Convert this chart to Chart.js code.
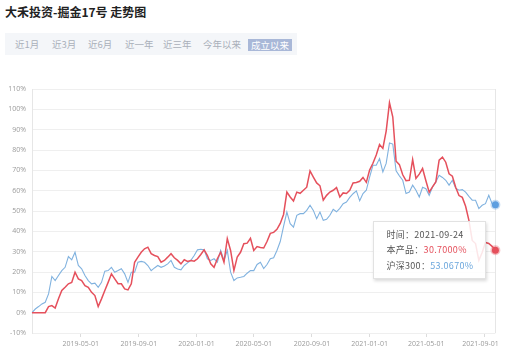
<!DOCTYPE html>
<html>
<head>
<meta charset="utf-8">
<script src="https://cdn.jsdelivr.net/npm/chart.js@4/dist/chart.umd.min.js"></script>
<style>
  html, body { margin: 0; padding: 0; background: #fff; }
  body { width: 510px; height: 358px; position: relative; overflow: hidden; font-family: "Noto Sans CJK SC", "Noto Sans", sans-serif; }
  #title { position: absolute; left: 5px; top: 3px; font-size: 12px; font-weight: bold; color: #222; line-height: 18px; }
  #bar { position: absolute; left: 5px; top: 33px; width: 292px; height: 22px; background: #f4f6f9; }
  #bar span { position: absolute; top: 0; height: 22px; line-height: 22px; font-size: 9.5px; color: #aab0ba; }
  #bar span.active { top: 6px; height: 12px; line-height: 12px; background: #a9b8d8; color: #fff; padding: 0 3px; }
  #c { position: absolute; left: 0; top: 0; }
  #tip { position: absolute; background: rgba(255,255,255,0.86); border: 1px solid #e2e2e2; box-shadow: 1px 2px 3px rgba(0,0,0,0.15); font-size: 9px; color: #555; padding: 5px 12px 5px 12px; line-height: 15.5px; white-space: nowrap; letter-spacing: 0.3px; }
</style>
</head>
<body>
<div id="title">大禾投资-掘金17号 走势图</div>
<div id="bar">
  <span style="left:10px">近1月</span>
  <span style="left:47px">近3月</span>
  <span style="left:83px">近6月</span>
  <span style="left:120px">近一年</span>
  <span style="left:158px">近三年</span>
  <span style="left:198px">今年以来</span>
  <span class="active" style="left:243px">成立以来</span>
</div>
<canvas id="c" width="510" height="358"></canvas>
<div id="tip"></div>
<script>
const dates = [
  '2019-01-18','2019-01-25','2019-02-01','2019-02-08','2019-02-15','2019-02-22','2019-03-01','2019-03-08','2019-03-15','2019-03-22',
  '2019-03-29','2019-04-05','2019-04-12','2019-04-19','2019-04-26','2019-05-03','2019-05-10','2019-05-17','2019-05-24','2019-05-31',
  '2019-06-07','2019-06-14','2019-06-21','2019-06-28','2019-07-05','2019-07-12','2019-07-19','2019-07-26','2019-08-02','2019-08-09',
  '2019-08-16','2019-08-23','2019-08-30','2019-09-06','2019-09-13','2019-09-20','2019-09-27','2019-10-04','2019-10-11','2019-10-18',
  '2019-10-25','2019-11-01','2019-11-08','2019-11-15','2019-11-22','2019-11-29','2019-12-06','2019-12-13','2019-12-20','2019-12-27',
  '2020-01-03','2020-01-10','2020-01-17','2020-01-24','2020-01-31','2020-02-07','2020-02-14','2020-02-21','2020-02-28','2020-03-06',
  '2020-03-13','2020-03-20','2020-03-27','2020-04-03','2020-04-10','2020-04-17','2020-04-24','2020-05-01','2020-05-08','2020-05-15',
  '2020-05-22','2020-05-29','2020-06-05','2020-06-12','2020-06-19','2020-06-26','2020-07-03','2020-07-10','2020-07-17','2020-07-24',
  '2020-07-31','2020-08-07','2020-08-14','2020-08-21','2020-08-28','2020-09-04','2020-09-11','2020-09-18','2020-09-25','2020-10-02',
  '2020-10-09','2020-10-16','2020-10-23','2020-10-30','2020-11-06','2020-11-13','2020-11-20','2020-11-27','2020-12-04','2020-12-11',
  '2020-12-18','2020-12-25','2021-01-01','2021-01-08','2021-01-15','2021-01-22','2021-01-29','2021-02-05','2021-02-12','2021-02-19',
  '2021-02-26','2021-03-05','2021-03-12','2021-03-19','2021-03-26','2021-04-02','2021-04-09','2021-04-16','2021-04-23','2021-04-30',
  '2021-05-07','2021-05-14','2021-05-21','2021-05-28','2021-06-04','2021-06-11','2021-06-18','2021-06-25','2021-07-02','2021-07-09',
  '2021-07-16','2021-07-23','2021-07-30','2021-08-06','2021-08-13','2021-08-20','2021-08-27','2021-09-03','2021-09-10','2021-09-17',
  '2021-09-24'
];
// 本产品 (%)
const productValues = [
  0, 0, 0, 0, 0, 3.0, 3.5, 2.3, 6.8, 10.9,
  12.5, 14.2, 14.9, 19.9, 16.6, 15.8, 13.3, 12.5, 10.0, 8.4,
  3.0, 6.8, 10.9, 14.9, 19.1, 16.6, 14.2, 14.2, 11.7, 11.2,
  14.2, 24.8, 27.3, 29.7, 31.4, 32.2, 29.0, 28.1, 27.6, 24.8,
  25.7, 27.3, 29.0, 27.0, 25.7, 24.0, 26.0, 25.2, 25.7, 25.3,
  26.5, 28.6, 30.9, 28.1, 24.0, 22.3, 26.5, 29.7, 24.8, 36.4,
  30.6, 20.7, 27.3, 29.7, 33.9, 34.2, 36.6, 30.6, 32.5, 32.1,
  31.8, 35.0, 39.0, 39.5, 41.0, 43.9, 48.3, 59.3, 56.9, 54.9,
  59.3, 58.7, 60.2, 61.7, 69.7, 66.7, 63.8, 62.4, 55.3, 57.7,
  59.3, 60.2, 61.5, 56.9, 58.9, 58.6, 60.2, 63.8, 64.0, 64.6,
  66.5, 64.1, 70.1, 73.5, 77.5, 82.7, 80.8, 89.3, 103.3, 96.2,
  74.5, 72.8, 67.8, 64.9, 65.1, 75.3, 66.0, 68.1, 70.9, 64.9,
  59.3, 61.9, 64.3, 75.0, 76.5, 74.0, 68.3, 67.1, 61.7, 57.6,
  56.7, 52.3, 45.4, 35.5, 34.0, 25.7, 29.6, 34.5, 34.0, 32.6,
  30.7
];
// 沪深300 (%)
const hs300Values = [
  0, 1.8, 3.0, 4.3, 5.1, 9.2, 17.8, 15.8, 18.3, 20.7,
  22.3, 27.6, 26.0, 29.7, 23.2, 21.6, 18.3, 15.8, 14.2, 14.5,
  12.5, 14.9, 20.4, 20.7, 22.3, 19.9, 20.7, 21.6, 19.1, 14.9,
  19.9, 19.9, 24.8, 25.2, 24.8, 23.2, 20.7, 22.0, 23.2, 22.3,
  23.0, 24.0, 25.7, 22.3, 21.5, 21.1, 23.2, 24.5, 25.7, 28.1,
  30.9, 31.2, 30.9, 26.5, 25.7, 26.5, 24.8, 30.6, 25.7, 30.6,
  19.9, 15.8, 17.1, 17.4, 17.8, 19.4, 20.7, 20.7, 23.7, 24.8,
  21.7, 23.7, 26.5, 27.0, 30.6, 35.0, 42.4, 49.5, 43.8, 42.1,
  47.9, 48.7, 48.7, 50.3, 52.8, 50.3, 46.2, 49.5, 45.4, 45.9,
  47.9, 50.8, 49.6, 51.3, 53.6, 54.4, 56.7, 58.5, 59.9, 55.0,
  58.6, 60.2, 66.7, 72.5, 72.5, 75.8, 69.2, 73.4, 83.5, 82.9,
  69.8, 67.3, 65.1, 58.6, 59.3, 62.7, 60.2, 56.9, 61.7, 61.0,
  57.7, 61.8, 64.3, 67.6, 66.5, 65.1, 62.7, 65.1, 61.2, 60.2,
  60.5, 59.3, 57.2, 55.3, 55.3, 51.2, 52.8, 53.6, 57.7, 53.6,
  53.067
];
const tickDates = ['2019-05-01','2019-09-01','2020-01-01','2020-05-01','2020-09-01','2021-01-01','2021-05-01','2021-09-01'];
const seriesNames = ['本产品', '沪深300'];
const tipDateLabel = '时间';

const RED = '#e5505c';
const BLUE = '#80b2df';
const last = dates.length - 1;

function pts(vals) { return dates.map((d, i) => ({ x: Date.parse(d), y: vals[i] })); }
function endRadius(ctx) { return ctx.dataIndex === last ? 3.5 : 0; }

const borderBox = {
  id: 'borderBox',
  beforeDatasetsDraw(chart) {
    const a = chart.chartArea, c = chart.ctx;
    c.save();
    c.strokeStyle = '#e6e6e6';
    c.lineWidth = 1;
    c.beginPath();
    c.moveTo(Math.round(a.right) + 0.5, a.top);
    c.lineTo(Math.round(a.right) + 0.5, a.bottom);
    c.stroke();
    c.restore();
  }
};

const chart = new Chart(document.getElementById('c'), {
  type: 'line',
  data: {
    datasets: [
      { label: seriesNames[0], data: pts(productValues), borderColor: RED, borderWidth: 1.5,
        pointRadius: endRadius, pointHoverRadius: endRadius, pointBackgroundColor: RED,
        pointBorderColor: 'rgba(229,80,92,0.35)', pointBorderWidth: 3, tension: 0, order: 1, clip: false },
      { label: seriesNames[1], data: pts(hs300Values), borderColor: BLUE, borderWidth: 1.1,
        pointRadius: endRadius, pointHoverRadius: endRadius, pointBackgroundColor: '#5e9fe0',
        pointBorderColor: 'rgba(94,159,224,0.35)', pointBorderWidth: 3, tension: 0, order: 2, clip: false }
    ]
  },
  options: {
    responsive: false,
    animation: false,
    events: [],
    layout: { padding: { top: 89, right: 9, left: 0, bottom: 0 } },
    plugins: { legend: { display: false }, tooltip: { enabled: false } },
    scales: {
      x: {
        type: 'linear',
        min: Date.parse(dates[0]),
        max: Date.parse(dates[last]),
        afterBuildTicks(scale) { scale.ticks = tickDates.map(d => ({ value: Date.parse(d) })); },
        afterFit(scale) { scale.height = 25; },
        ticks: {
          autoSkip: false, maxRotation: 0, padding: 3,
          color: '#9a9a9a', font: { size: 7, family: 'Open Sans, Noto Sans, sans-serif' },
          callback: (v, i, arr) => {
            const s = new Date(v).toISOString().slice(0, 10);
            return i === arr.length - 1 ? s + '\u2007\u2007' : s;
          }
        },
        grid: { drawOnChartArea: false, drawTicks: true, tickLength: 4, color: '#dcdcdc' },
        border: { display: false }
      },
      y: {
        min: -10, max: 110,
        afterFit(scale) { scale.width = 32; },
        ticks: {
          stepSize: 10, padding: 6,
          color: '#9a9a9a', font: { size: 7, family: 'Open Sans, Noto Sans, sans-serif' },
          callback: (v) => v + '%'
        },
        grid: { color: '#efefef', drawTicks: false },
        border: { display: true, color: '#e6e6e6' }
      }
    }
  },
  plugins: [borderBox]
});

// tooltip for the last date, positioned from the library's points
const pR = chart.getDatasetMeta(0).data[last];
const tip = document.getElementById('tip');
tip.innerHTML =
  tipDateLabel + '：' + dates[last] + '<br>' +
  seriesNames[0] + '：<span style="color:' + RED + '">' + productValues[last].toFixed(4) + '%</span><br>' +
  seriesNames[1] + '：<span style="color:#6aa6dc">' + hs300Values[last].toFixed(4) + '%</span>';
const w = tip.offsetWidth, h = tip.offsetHeight;
tip.style.left = (pR.x - 9 - w) + 'px';
tip.style.top = (pR.y - h / 2) + 'px';
</script>
</body>
</html>
